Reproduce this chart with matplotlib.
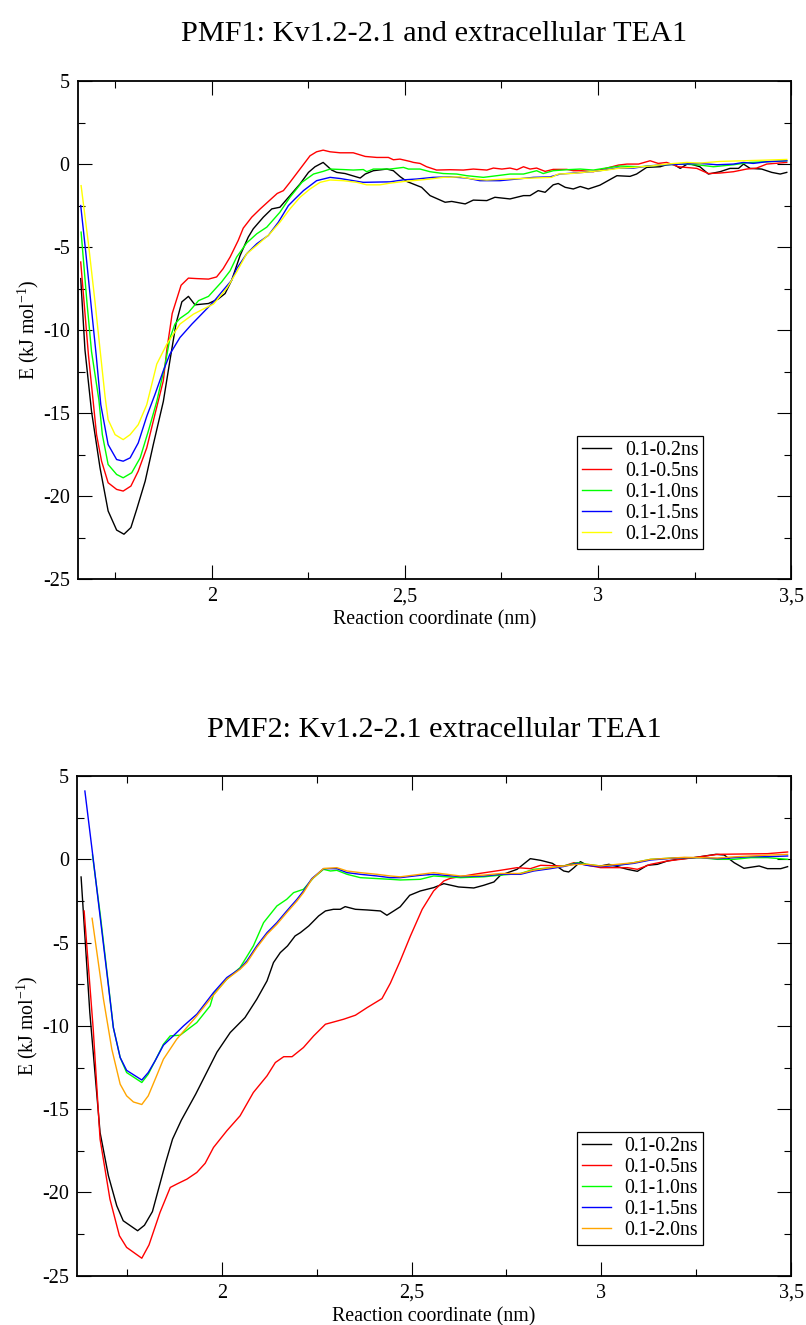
import matplotlib
matplotlib.use("Agg")
import matplotlib.pyplot as plt
from matplotlib.ticker import MultipleLocator, FuncFormatter

plt.rcParams["font.family"] = ["Liberation Serif", "DejaVu Serif"]
plt.rcParams["mathtext.fontset"] = "custom"
plt.rcParams["mathtext.rm"] = "Liberation Serif"

# ---------------- PMF1 ----------------
pmf1_x_02 = [1.660, 1.671, 1.688, 1.710, 1.731, 1.753, 1.772, 1.790, 1.805, 1.827, 1.848, 1.874, 1.891,
             1.907, 1.922, 1.939, 1.956, 1.991, 2.016, 2.034, 2.051, 2.073, 2.094, 2.107, 2.133, 2.155,
             2.176, 2.202, 2.228, 2.250, 2.267, 2.288, 2.310, 2.323, 2.345, 2.384, 2.397, 2.418, 2.453,
             2.470, 2.487, 2.505, 2.543, 2.565, 2.604, 2.621, 2.656, 2.677, 2.712, 2.733, 2.772, 2.807,
             2.824, 2.845, 2.863, 2.884, 2.897, 2.915, 2.936, 2.954, 2.975, 3.005, 3.049, 3.083, 3.100,
             3.126, 3.161, 3.178, 3.195, 3.213, 3.234, 3.264, 3.286, 3.316, 3.342, 3.364, 3.377, 3.394,
             3.424, 3.450, 3.472, 3.489]
pmf1_e_02 = [-6.9, -11.2, -14.9, -18.3, -20.9, -22.05, -22.3, -21.9, -20.8, -19.1, -16.9, -14.3, -11.85,
             -9.6, -8.3, -7.97, -8.48, -8.4, -8.13, -7.8, -7.0, -5.5, -4.4, -3.9, -3.2, -2.7,
             -2.6, -1.9, -1.2, -0.5, -0.16, 0.1, -0.36, -0.5, -0.57, -0.84, -0.6, -0.4, -0.3,
             -0.4, -0.75, -1.05, -1.4, -1.9, -2.3, -2.25, -2.4, -2.17, -2.2, -2.0, -2.1, -1.9,
             -1.9, -1.6, -1.7, -1.25, -1.17, -1.4, -1.5, -1.35, -1.5, -1.27, -0.7, -0.74, -0.6,
             -0.2, -0.16, -0.04, 0.0, -0.26, 0.04, -0.16, -0.6, -0.46, -0.26, -0.26, 0.0, -0.26,
             -0.3, -0.5, -0.6, -0.5]

pmf1_x_05 = [1.660, 1.680, 1.701, 1.714, 1.731, 1.753, 1.770, 1.790, 1.809, 1.831, 1.852, 1.874, 1.883,
             1.897, 1.920, 1.939, 1.961, 1.991, 2.012, 2.029, 2.047, 2.068, 2.081, 2.103, 2.125, 2.150,
             2.169, 2.185, 2.202, 2.228, 2.254, 2.271, 2.288, 2.306, 2.332, 2.366, 2.397, 2.427, 2.457,
             2.470, 2.487, 2.513, 2.522, 2.539, 2.556, 2.582, 2.617, 2.651, 2.677, 2.712, 2.729, 2.751,
             2.772, 2.790, 2.807, 2.824, 2.841, 2.863, 2.884, 2.919, 2.936, 2.958, 2.988, 3.023, 3.053,
             3.075, 3.105, 3.135, 3.156, 3.178, 3.208, 3.256, 3.286, 3.316, 3.351, 3.385, 3.411, 3.437,
             3.489]
pmf1_e_05 = [-5.9, -11.5, -16.3, -17.9, -19.2, -19.6, -19.7, -19.4, -18.5, -17.1, -15.1, -13.05, -11.2,
             -9.0, -7.3, -6.87, -6.9, -6.93, -6.8, -6.3, -5.6, -4.6, -3.86, -3.2, -2.7, -2.17,
             -1.77, -1.6, -1.1, -0.3, 0.5, 0.74, 0.84, 0.74, 0.68, 0.68, 0.46, 0.4, 0.4,
             0.26, 0.3, 0.16, 0.1, 0.04, -0.16, -0.36, -0.34, -0.36, -0.3, -0.36, -0.24, -0.3,
             -0.24, -0.34, -0.16, -0.3, -0.24, -0.44, -0.32, -0.32, -0.4, -0.4, -0.46, -0.24, -0.06,
             0.0, 0.0, 0.2, 0.04, 0.1, -0.16, -0.26, -0.57, -0.54, -0.46, -0.3, -0.24, 0.0,
             0.1]

pmf1_x_10 = [1.661, 1.676, 1.688, 1.707, 1.716, 1.731, 1.753, 1.770, 1.792, 1.814, 1.835, 1.857, 1.878,
             1.891, 1.904, 1.917, 1.939, 1.965, 1.991, 2.025, 2.047, 2.064, 2.090, 2.116, 2.142, 2.176,
             2.202, 2.233, 2.263, 2.288, 2.306, 2.340, 2.366, 2.392, 2.401, 2.418, 2.461, 2.496, 2.509,
             2.539, 2.565, 2.599, 2.634, 2.660, 2.703, 2.738, 2.772, 2.807, 2.841, 2.858, 2.884, 2.919,
             2.954, 2.988, 3.031, 3.057, 3.109, 3.143, 3.178, 3.221, 3.264, 3.299, 3.351, 3.394, 3.437,
             3.489]
pmf1_e_10 = [-4.1, -8.3, -11.3, -14.2, -16.3, -18.1, -18.7, -18.9, -18.6, -17.7, -16.1, -14.3, -12.15,
             -10.5, -9.64, -9.3, -8.94, -8.23, -7.97, -7.1, -6.43, -5.6, -4.75, -4.2, -3.8, -2.9,
             -2.0, -1.1, -0.6, -0.44, -0.3, -0.33, -0.36, -0.33, -0.46, -0.3, -0.3, -0.2, -0.3,
             -0.3, -0.46, -0.57, -0.6, -0.7, -0.8, -0.7, -0.6, -0.6, -0.4, -0.57, -0.4, -0.34,
             -0.3, -0.36, -0.2, -0.12, -0.16, -0.1, -0.04, 0.0, -0.06, -0.16, -0.04, 0.1, 0.14,
             0.2]

pmf1_x_15 = [1.660, 1.673, 1.686, 1.700, 1.712, 1.731, 1.753, 1.770, 1.788, 1.809, 1.831, 1.852, 1.874,
             1.891, 1.917, 1.948, 1.969, 2.004, 2.029, 2.051, 2.064, 2.090, 2.116, 2.146, 2.172, 2.198,
             2.215, 2.237, 2.271, 2.306, 2.332, 2.366, 2.392, 2.461, 2.496, 2.530, 2.573, 2.617, 2.660,
             2.694, 2.746, 2.790, 2.833, 2.876, 2.902, 2.962, 3.005, 3.049, 3.092, 3.135, 3.178, 3.221,
             3.264, 3.308, 3.351, 3.377, 3.402, 3.437, 3.489]
pmf1_e_15 = [-2.5, -5.3, -8.3, -11.5, -14.5, -16.9, -17.8, -17.9, -17.7, -16.8, -15.2, -13.9, -12.45,
             -11.45, -10.45, -9.64, -9.14, -8.3, -7.6, -7.0, -6.3, -5.4, -4.8, -4.3, -3.5, -2.5,
             -2.1, -1.6, -1.0, -0.8, -0.87, -1.0, -1.1, -1.07, -0.95, -0.9, -0.8, -0.77, -0.84,
             -1.0, -1.0, -0.9, -0.8, -0.77, -0.6, -0.5, -0.4, -0.24, -0.24, -0.1, -0.04, 0.0,
             0.04, -0.04, 0.0, 0.1, 0.04, 0.14, 0.2]

pmf1_x_20 = [1.661, 1.680, 1.697, 1.712, 1.723, 1.731, 1.749, 1.770, 1.788, 1.809, 1.831, 1.857, 1.883,
             1.917, 1.952, 1.978, 2.004, 2.038, 2.064, 2.090, 2.116, 2.150, 2.176, 2.202, 2.228, 2.254,
             2.280, 2.306, 2.340, 2.375, 2.401, 2.435, 2.461, 2.496, 2.539, 2.565, 2.599, 2.643, 2.677,
             2.712, 2.764, 2.833, 2.880, 2.897, 2.936, 2.979, 3.023, 3.057, 3.092, 3.143, 3.178, 3.230,
             3.264, 3.316, 3.377, 3.437, 3.489]
pmf1_e_20 = [-1.3, -4.8, -8.3, -11.6, -14.0, -15.4, -16.3, -16.6, -16.3, -15.7, -14.5, -12.05, -10.85,
             -9.64, -9.04, -8.73, -8.43, -7.5, -6.5, -5.4, -4.9, -4.2, -3.5, -2.7, -2.0, -1.5,
             -1.1, -0.96, -1.0, -1.1, -1.25, -1.25, -1.15, -1.05, -0.96, -0.9, -0.8, -0.77, -0.9,
             -0.96, -0.9, -0.84, -0.8, -0.6, -0.56, -0.46, -0.36, -0.24, -0.2, -0.1, 0.0, 0.1,
             0.06, 0.16, 0.2, 0.24, 0.28]

# ---------------- PMF2 ----------------
pmf2_x_02 = [1.629, 1.652, 1.679, 1.701, 1.723, 1.740, 1.778, 1.796, 1.817, 1.852, 1.870, 1.893, 1.931,
             1.987, 2.022, 2.061, 2.092, 2.119, 2.136, 2.154, 2.173, 2.193, 2.207, 2.229, 2.255, 2.273,
             2.294, 2.312, 2.325, 2.352, 2.383, 2.418, 2.435, 2.453, 2.470, 2.495, 2.523, 2.558, 2.585,
             2.624, 2.664, 2.690, 2.717, 2.734, 2.778, 2.813, 2.840, 2.871, 2.901, 2.914, 2.928, 2.945,
             2.963, 2.998, 3.020, 3.069, 3.095, 3.121, 3.148, 3.174, 3.201, 3.244, 3.302, 3.324, 3.350,
             3.376, 3.416, 3.438, 3.473, 3.491]
pmf2_e_02 = [-1.06, -9.2, -16.4, -19.0, -20.8, -21.7, -22.3, -21.97, -21.15, -18.2, -16.8, -15.67, -14.1,
             -11.58, -10.4, -9.5, -8.4, -7.3, -6.2, -5.6, -5.2, -4.6, -4.4, -4.0, -3.4, -3.1,
             -3.0, -3.0, -2.84, -3.0, -3.04, -3.1, -3.36, -3.1, -2.85, -2.16, -1.9, -1.7, -1.46,
             -1.66, -1.72, -1.56, -1.36, -0.96, -0.6, 0.04, -0.06, -0.24, -0.7, -0.76, -0.5, -0.14,
             -0.36, -0.4, -0.3, -0.6, -0.72, -0.36, -0.3, -0.1, 0.0, 0.1, 0.3, 0.26, -0.2,
             -0.54, -0.4, -0.56, -0.56, -0.44]

pmf2_x_05 = [1.637, 1.661, 1.679, 1.705, 1.730, 1.749, 1.789, 1.808, 1.837, 1.864, 1.881, 1.908, 1.934,
             1.956, 1.978, 2.013, 2.048, 2.083, 2.119, 2.141, 2.163, 2.185, 2.215, 2.242, 2.273, 2.294,
             2.321, 2.352, 2.383, 2.422, 2.444, 2.470, 2.497, 2.528, 2.558, 2.585, 2.602, 2.664, 2.734,
             2.778, 2.813, 2.840, 2.901, 2.928, 2.998, 3.069, 3.095, 3.130, 3.174, 3.244, 3.306, 3.438,
             3.491]
pmf2_e_05 = [-3.1, -10.2, -16.8, -20.4, -22.6, -23.3, -23.95, -23.15, -21.2, -19.7, -19.5, -19.2, -18.8,
             -18.25, -17.3, -16.3, -15.4, -14.0, -13.0, -12.2, -11.85, -11.85, -11.3, -10.6, -9.9, -9.77,
             -9.6, -9.36, -8.9, -8.36, -7.44, -6.1, -4.6, -3.0, -1.9, -1.3, -1.14, -0.9, -0.66,
             -0.5, -0.56, -0.36, -0.4, -0.2, -0.5, -0.5, -0.6, -0.3, -0.1, 0.1, 0.3, 0.34,
             0.44]

pmf2_x_10 = [1.659, 1.680, 1.700, 1.714, 1.732, 1.749, 1.789, 1.806, 1.824, 1.846, 1.864, 1.890, 1.934,
             1.969, 1.978, 2.013, 2.048, 2.083, 2.110, 2.145, 2.171, 2.189, 2.215, 2.242, 2.268, 2.286,
             2.303, 2.330, 2.365, 2.444, 2.470, 2.523, 2.558, 2.629, 2.690, 2.734, 2.787, 2.822, 2.866,
             2.901, 2.937, 2.963, 2.998, 3.042, 3.086, 3.130, 3.174, 3.218, 3.262, 3.306, 3.350, 3.394,
             3.438, 3.491]
pmf2_e_10 = [0.26, -3.4, -7.3, -10.1, -11.9, -12.8, -13.4, -12.9, -12.1, -11.1, -10.6, -10.56, -9.8,
             -8.8, -8.1, -7.2, -6.5, -5.2, -3.8, -2.8, -2.4, -2.0, -1.8, -1.1, -0.6, -0.7,
             -0.66, -0.9, -1.1, -1.2, -1.24, -1.2, -1.0, -1.1, -1.05, -0.95, -0.85, -0.6, -0.5,
             -0.4, -0.2, -0.3, -0.4, -0.36, -0.2, 0.0, 0.06, 0.1, 0.1, 0.0, 0.0, 0.1,
             0.1, 0.0]

pmf2_x_15 = [1.639, 1.660, 1.680, 1.700, 1.714, 1.732, 1.749, 1.789, 1.806, 1.824, 1.846, 1.872, 1.899,
             1.934, 1.951, 1.978, 2.013, 2.048, 2.066, 2.092, 2.119, 2.145, 2.171, 2.198, 2.215, 2.237,
             2.268, 2.303, 2.330, 2.365, 2.409, 2.444, 2.470, 2.523, 2.558, 2.629, 2.690, 2.734, 2.787,
             2.822, 2.866, 2.901, 2.937, 2.963, 2.998, 3.042, 3.086, 3.130, 3.174, 3.218, 3.262, 3.306,
             3.350, 3.394, 3.438, 3.491]
pmf2_e_15 = [4.1, 0.2, -3.6, -7.4, -10.1, -11.9, -12.67, -13.25, -12.8, -12.1, -11.16, -10.6, -10.0,
             -9.3, -8.8, -8.0, -7.1, -6.56, -6.1, -5.2, -4.4, -3.8, -3.1, -2.4, -1.9, -1.16,
             -0.56, -0.56, -0.8, -0.9, -1.0, -1.1, -1.1, -0.96, -0.9, -1.04, -1.0, -0.9, -0.9,
             -0.7, -0.56, -0.43, -0.24, -0.36, -0.44, -0.36, -0.24, -0.04, 0.04, 0.1, 0.1, 0.04,
             0.1, 0.16, 0.16, 0.2]

pmf2_x_20 = [1.658, 1.688, 1.710, 1.732, 1.749, 1.767, 1.789, 1.806, 1.828, 1.846, 1.881, 1.934, 1.969,
             2.013, 2.048, 2.066, 2.092, 2.119, 2.145, 2.171, 2.198, 2.215, 2.237, 2.268, 2.303, 2.330,
             2.365, 2.409, 2.444, 2.470, 2.523, 2.558, 2.629, 2.690, 2.734, 2.787, 2.822, 2.866, 2.901,
             2.937, 2.963, 2.998, 3.042, 3.086, 3.130, 3.174, 3.218, 3.262, 3.306, 3.350, 3.394, 3.438,
             3.491]
pmf2_e_20 = [-3.54, -8.4, -11.4, -13.5, -14.2, -14.57, -14.72, -14.2, -13.0, -12.0, -10.8, -9.4, -8.4,
             -7.2, -6.6, -6.2, -5.3, -4.5, -3.9, -3.2, -2.5, -2.0, -1.2, -0.55, -0.5, -0.7,
             -0.8, -0.9, -1.0, -1.05, -0.9, -0.8, -1.0, -0.95, -0.85, -0.85, -0.65, -0.5, -0.4,
             -0.3, -0.3, -0.4, -0.3, -0.2, 0.0, 0.06, 0.12, 0.1, 0.08, 0.15, 0.2, 0.25,
             0.3]

series_labels = ["0.1-0.2ns", "0.1-0.5ns", "0.1-1.0ns", "0.1-1.5ns", "0.1-2.0ns"]
pmf1_colors = ["#000000", "#ff0000", "#00ff00", "#0000ff", "#ffff00"]
pmf2_colors = ["#000000", "#ff0000", "#00ff00", "#0000ff", "#ffa500"]

pmf1_series = [(pmf1_x_02, pmf1_e_02), (pmf1_x_05, pmf1_e_05), (pmf1_x_10, pmf1_e_10),
               (pmf1_x_15, pmf1_e_15), (pmf1_x_20, pmf1_e_20)]
pmf2_series = [(pmf2_x_02, pmf2_e_02), (pmf2_x_05, pmf2_e_05), (pmf2_x_10, pmf2_e_10),
               (pmf2_x_15, pmf2_e_15), (pmf2_x_20, pmf2_e_20)]


def comma_fmt(v, pos):
    return "{:g}".format(round(v, 3)).replace(".", ",")


def draw_panel(ax, series, colors, title, xmin, title_pad):
    for (xs, es), c, lab in zip(series, colors, series_labels):
        ax.plot(xs, es, color=c, lw=1.0, label=lab)
    ax.set_xlim(xmin, 3.5)
    ax.set_ylim(-25, 5)
    ax.xaxis.set_major_locator(MultipleLocator(0.5))
    ax.xaxis.set_minor_locator(MultipleLocator(0.25))
    ax.yaxis.set_major_locator(MultipleLocator(5))
    ax.yaxis.set_minor_locator(MultipleLocator(2.5))
    ax.xaxis.set_major_formatter(FuncFormatter(comma_fmt))
    ax.yaxis.set_major_formatter(FuncFormatter(comma_fmt))
    ax.tick_params(which="both", direction="in", top=True, right=True,
                   labelsize=14.5, width=0.8, colors="black")
    ax.tick_params(which="major", length=10, pad=6)
    ax.tick_params(which="minor", length=5)
    for sp in ax.spines.values():
        sp.set_linewidth(1.3)
    ax.set_xlabel("Reaction coordinate (nm)", fontsize=14.3, labelpad=3)
    ax.set_ylabel(r"E (kJ mol$^{\mathrm{-1}}$)", fontsize=14.3, labelpad=1.5)
    ax.set_title(title, fontsize=21.8, pad=title_pad)
    leg = ax.legend(loc="upper left", bbox_to_anchor=(0.700, 0.287), fontsize=14.3,
                    frameon=True, fancybox=False, edgecolor="black", framealpha=1,
                    borderaxespad=0, handlelength=1.45, handletextpad=0.7,
                    labelspacing=0.095, borderpad=0.25)
    leg.get_frame().set_linewidth(0.9)


fig = plt.figure(figsize=(8.06, 13.25), dpi=100)
ax1 = fig.add_axes([0.0968, 0.5630, 0.8846, 0.3758])
ax2 = fig.add_axes([0.0959, 0.0372, 0.8855, 0.3771])

draw_panel(ax1, pmf1_series, pmf1_colors, "PMF1: Kv1.2-2.1 and extracellular TEA1", 1.653, 29)
draw_panel(ax2, pmf2_series, pmf2_colors, "PMF2: Kv1.2-2.1 extracellular TEA1", 1.619, 28)

fig.savefig("out.png", dpi=100)
